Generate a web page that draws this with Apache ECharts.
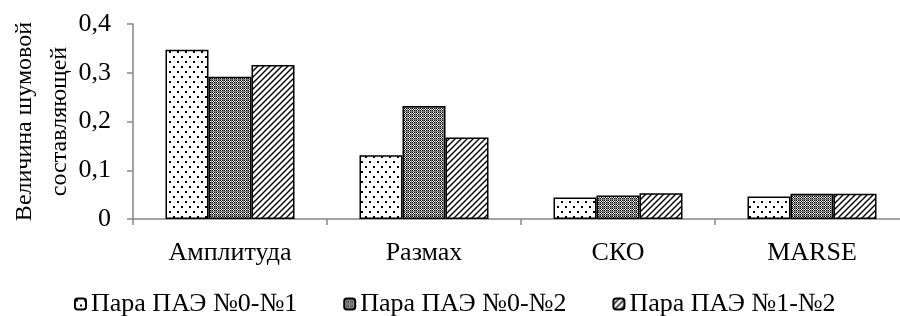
<!DOCTYPE html>
<html>
<head>
<meta charset="utf-8">
<script src="https://cdn.jsdelivr.net/npm/echarts@6/dist/echarts.min.js"></script>
<style>
  html, body { margin: 0; padding: 0; background: #fff; }
  #chart { width: 900px; height: 316px; }
</style>
</head>
<body>
<div id="chart"></div>
<script>
const categories = ['Амплитуда', 'Размах', 'СКО', 'MARSE']
const seriesNames = ['Пара ПАЭ №0-№1', 'Пара ПАЭ №0-№2', 'Пара ПАЭ №1-№2']
const pair01 = [0.347, 0.131, 0.044, 0.046]
const pair02 = [0.292, 0.232, 0.048, 0.052]
const pair12 = [0.316, 0.167, 0.053, 0.052]
const yTicks = [0, 0.1, 0.2, 0.3, 0.4]

const FONT = 'Liberation Serif'

// canvas tiles for the hatch fills
const makeTile = (w, h, draw) => {
  const c = document.createElement('canvas')
  c.width = w
  c.height = h
  const ctx = c.getContext('2d')
  ctx.fillStyle = '#fff'
  ctx.fillRect(0, 0, w, h)
  draw(ctx)
  return c
}

const dotsTile = makeTile(8, 10, (ctx) => {
  ctx.fillStyle = '#000'
  ctx.fillRect(1, 1, 2, 2)
  ctx.fillRect(5, 6, 2, 2)
})

const checkTile = makeTile(4, 4, (ctx) => {
  ctx.fillStyle = '#000'
  ctx.fillRect(0, 0, 1, 1)
  ctx.fillRect(2, 0, 1, 1)
  ctx.fillRect(1, 1, 1, 1)
  ctx.fillRect(0, 2, 1, 1)
  ctx.fillRect(2, 2, 1, 1)
  ctx.fillStyle = '#808080'
  ctx.fillRect(3, 0, 1, 4)
  ctx.fillRect(0, 3, 4, 1)
})

const diagTile = makeTile(6, 6, (ctx) => {
  ctx.strokeStyle = '#000'
  ctx.lineWidth = 1.4
  ctx.beginPath()
  ctx.moveTo(-1, 7)
  ctx.lineTo(7, -1)
  ctx.moveTo(-1, 1)
  ctx.lineTo(1, -1)
  ctx.moveTo(5, 7)
  ctx.lineTo(7, 5)
  ctx.stroke()
})

const fills = [dotsTile, checkTile, diagTile]
const data = [pair01, pair02, pair12]

const chart = echarts.init(document.getElementById('chart'), null, { renderer: 'canvas' })

chart.setOption({
  backgroundColor: '#fff',
  animation: false,
  textStyle: { fontFamily: FONT, color: '#000' },
  grid: { left: 133, right: -9, top: 24, bottom: 97, containLabel: false, outerBoundsMode: 'none' },
  legend: {
    data: seriesNames,
    bottom: -6,
    left: 69,
    itemWidth: 11,
    itemHeight: 11,
    itemGap: 46,
    textStyle: { fontFamily: FONT, fontSize: 26, color: '#000' }
  },
  xAxis: {
    type: 'category',
    data: categories,
    axisLine: { lineStyle: { color: '#868686', width: 1.5 } },
    axisTick: { show: true, length: 6, lineStyle: { color: '#868686', width: 1.5 } },
    axisLabel: { fontFamily: FONT, fontSize: 26, color: '#000', margin: 21 }
  },
  yAxis: {
    type: 'value',
    min: 0,
    max: 0.4,
    interval: 0.1,
    name: 'Величина шумовой\nсоставляющей',
    nameLocation: 'middle',
    nameRotate: 90,
    nameGap: 56,
    nameMoveOverlap: false,
    nameTextStyle: { fontFamily: FONT, fontSize: 24, color: '#000', lineHeight: 35 },
    axisLine: { show: true, lineStyle: { color: '#868686', width: 1.5 } },
    axisTick: { show: true, length: 6, lineStyle: { color: '#868686', width: 1.5 } },
    splitLine: { show: false },
    axisLabel: {
      fontFamily: FONT,
      fontSize: 26,
      color: '#000',
      margin: 22,
      formatter: (v) => {
        const t = yTicks.find((x) => Math.abs(x - v) < 1e-9)
        return t === 0 ? '0' : String(t).replace('.', ',')
      }
    }
  },
  series: seriesNames.map((name, i) => ({
    name,
    type: 'bar',
    data: data[i],
    barGap: '0%',
    barCategoryGap: '33.5%',
    itemStyle: {
      color: { image: fills[i], repeat: 'repeat' },
      borderColor: '#000',
      borderWidth: 1.5
    }
  }))
})
</script>
</body>
</html>
